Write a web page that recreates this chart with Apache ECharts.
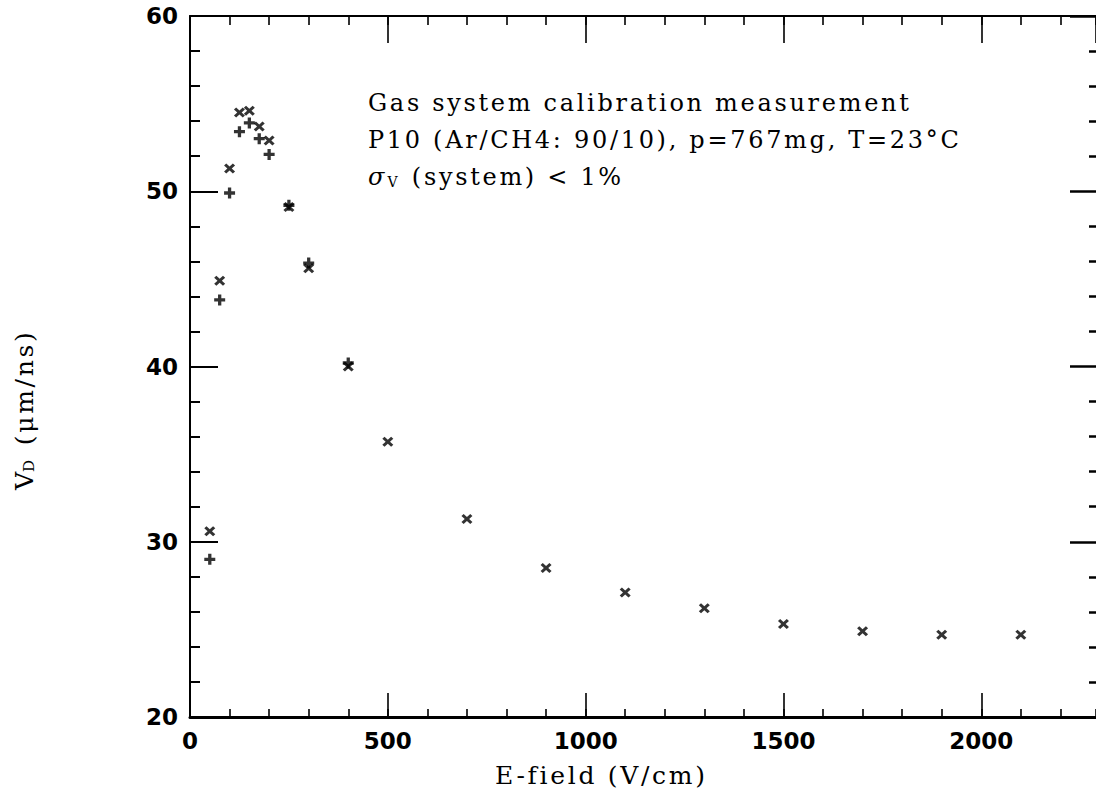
<!DOCTYPE html>
<html>
<head>
<meta charset="utf-8">
<script src="https://cdn.jsdelivr.net/npm/echarts@6/dist/echarts.min.js"></script>
<style>
  html, body { margin: 0; padding: 0; background: #fff; }
  #chart { width: 1096px; height: 796px; }
  /* the serif captions are set with loose tracking */
  #chart text[style*="Serif"] { letter-spacing: 2.7px; }
</style>
</head>
<body>
<div id="chart"></div>
<script>
// Drift velocity of P10 versus electric field
const eFieldCross = [50, 75, 100, 125, 150, 175, 200, 250, 300, 400, 500, 700, 900, 1100, 1300, 1500, 1700, 1900, 2100];
const vDriftCross = [30.6, 44.9, 51.3, 54.5, 54.6, 53.7, 52.9, 49.1, 45.6, 40.0, 35.7, 31.3, 28.5, 27.1, 26.2, 25.3, 24.9, 24.7, 24.7];
const eFieldPlus = [50, 75, 100, 125, 150, 175, 200, 250, 300, 400];
const vDriftPlus = [29.0, 43.8, 49.9, 53.4, 53.9, 53.0, 52.1, 49.2, 45.9, 40.2];
const xTickLabels = [0, 500, 1000, 1500, 2000];
const yTickLabels = [20, 30, 40, 50, 60];
const infoLines = [
  'Gas system calibration measurement',
  'P10 (Ar/CH4: 90/10), p=767mg, T=23°C',
  '{s|σ}{v|V} (system) < 1%'
];
const xTitle = 'E-field (V/cm)';
const yTitle = 'V{d|D} (μm/ns)';

const X_MIN = 0, X_MAX = 2290, Y_MIN = 20, Y_MAX = 60;

const CROSS = 'path://M0,2L2,0L5,3L8,0L10,2L7,5L10,8L8,10L5,7L2,10L0,8L3,5Z';
const PLUS = 'path://M3.5,0H6.5V3.5H10V6.5H6.5V10H3.5V6.5H0V3.5H3.5Z';

const BLACK = '#000';
const serif = '"DejaVu Serif", serif';
const labelFont = { color: BLACK, fontFamily: '"DejaVu Sans", sans-serif', fontWeight: 'bold', fontSize: 23 };

function xAxisDef(position, interval, tickLen, withLine, withLabels) {
  return {
    type: 'value', position, min: X_MIN, max: X_MAX, interval,
    axisLine: { show: withLine, onZero: false, lineStyle: { color: BLACK, width: position === 'bottom' ? 3 : 2 } },
    axisTick: { show: true, inside: true, length: tickLen, lineStyle: { color: BLACK, width: 1.6 } },
    axisLabel: withLabels ? Object.assign({
      margin: 12, showMaxLabel: false,
      formatter: v => (xTickLabels.indexOf(v) >= 0 ? String(v) : '')
    }, labelFont) : { show: false },
    splitLine: { show: false }
  };
}

function yAxisDef(position, tickLen, minorLen, width, withLine, withLabels) {
  return {
    type: 'value', position, min: Y_MIN, max: Y_MAX, interval: 10,
    axisLine: { show: withLine, onZero: false, lineStyle: { color: BLACK, width: 2 } },
    axisTick: { show: true, inside: true, length: tickLen, lineStyle: { color: BLACK, width } },
    minorTick: { show: true, splitNumber: 5, length: minorLen, lineStyle: { color: BLACK, width } },
    axisLabel: withLabels ? Object.assign({
      margin: 12,
      formatter: v => (yTickLabels.indexOf(v) >= 0 ? String(v) : '')
    }, labelFont) : { show: false },
    splitLine: { show: false }
  };
}

const chart = echarts.init(document.getElementById('chart'), null, { renderer: 'svg' });

chart.setOption({
  animation: false,
  backgroundColor: '#fff',
  grid: { left: 190, top: 16, right: -3, bottom: 79, containLabel: false },
  xAxis: [
    xAxisDef('bottom', 500, 24, true, true),
    xAxisDef('bottom', 100, 8, false, false),
    xAxisDef('top', 500, 27, true, false),
    xAxisDef('top', 100, 9, false, false)
  ],
  yAxis: [
    yAxisDef('left', 28, 10, 2, true, true),
    yAxisDef('right', 26, 7, 2.5, false, false)
  ],
  series: [
    {
      type: 'scatter', xAxisIndex: 0, yAxisIndex: 0,
      symbol: CROSS, symbolSize: [11, 10],
      itemStyle: { color: BLACK },
      data: eFieldCross.map((e, i) => [e, vDriftCross[i]])
    },
    {
      type: 'scatter', xAxisIndex: 0, yAxisIndex: 0,
      symbol: PLUS, symbolSize: [11, 11],
      itemStyle: { color: BLACK },
      data: eFieldPlus.map((e, i) => [e, vDriftPlus[i]])
    }
  ],
  graphic: [
    ...infoLines.map((line, i) => ({
      type: 'text', x: 368, y: 103 + i * 37,
      style: {
        text: line, font: '24px ' + serif, fill: BLACK,
        textAlign: 'left', textVerticalAlign: 'middle',
        rich: {
          s: { fontFamily: serif, fontSize: 24, fontStyle: 'italic', fill: BLACK, padding: [0, 3, 0, 0] },
          v: { fontFamily: serif, fontSize: 14, fill: BLACK, verticalAlign: 'bottom', lineHeight: 14, padding: [0, 4, 0, 0] }
        }
      }
    })),
    {
      type: 'text', x: 495, y: 775,
      style: { text: xTitle, font: '25px ' + serif, fill: BLACK, textAlign: 'left', textVerticalAlign: 'middle' }
    },
    {
      type: 'text', x: 24, y: 490, rotation: Math.PI / 2,
      style: {
        text: yTitle, font: '25px ' + serif, fill: BLACK,
        textAlign: 'left', textVerticalAlign: 'middle',
        rich: {
          d: { fontFamily: serif, fontSize: 15, fill: BLACK, verticalAlign: 'bottom', lineHeight: 15, padding: [0, 4, 0, 0] }
        }
      }
    }
  ]
});
</script>
</body>
</html>
